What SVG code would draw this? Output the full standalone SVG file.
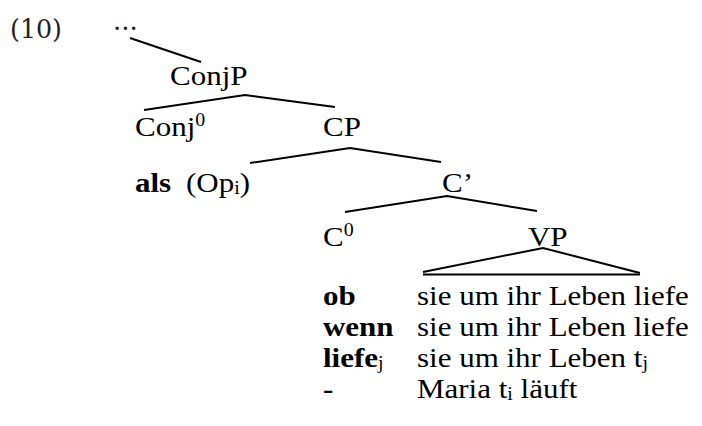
<svg xmlns="http://www.w3.org/2000/svg" width="702" height="426" viewBox="0 0 702 426">
  <style>
    .t { font-family: "Liberation Serif", "Times New Roman", serif; font-size: 28px; fill: #000; }
    .b { font-weight: bold; }
    .sup { font-size: 18px; }
    .sub { font-size: 18px; }
    .num { font-family: "DejaVu Serif", "Liberation Serif", serif; font-size: 26px; fill: #222; }
    .edge { stroke: #000; stroke-width: 2; fill: none; }
  </style>
  <rect width="702" height="426" fill="#fff"/>

  <!-- example number -->
  <text class="num" x="10" y="38" textLength="52" lengthAdjust="spacingAndGlyphs">(10)</text>
  <text class="num" x="113" y="30" font-size="20">...</text>

  <!-- tree branches -->
  <g id="connectors">
    <line class="edge" x1="130" y1="38" x2="201" y2="62"/>
    <polyline class="edge" points="144,110 245,95 335,107"/>
    <polyline class="edge" points="250,163 350,148 441,162"/>
    <polyline class="edge" points="345,212 447,196 537,211"/>
    <polyline class="edge" points="423,272 543,248 640,273"/>
    <line class="edge" x1="423" y1="274.5" x2="640" y2="274.5"/>
  </g>

  <!-- labels: Times set a little wide (scale 1.107 horizontally) -->
  <g id="ConjP"><text class="t" transform="translate(170 85) scale(1.107 1)">ConjP</text></g>
  <g id="Conj0"><text class="t" transform="translate(135 136) scale(1.107 1)">Conj<tspan class="sup" dy="-10">0</tspan></text></g>
  <g id="CP"><text class="t" transform="translate(323 136) scale(1.107 1)">CP</text></g>
  <g id="als"><text class="t b" transform="translate(135 192) scale(1.107 1)">als</text></g>
  <g id="Op"><text class="t" transform="translate(186 192) scale(1.107 1)">(Op<tspan class="sub" dy="2">i</tspan><tspan dy="-2">)</tspan></text></g>
  <g id="Cbar"><text class="t" transform="translate(442 192) scale(1.107 1)">C’</text></g>
  <g id="C0"><text class="t" transform="translate(323 246) scale(1.107 1)">C<tspan class="sup" dy="-10">0</tspan></text></g>
  <g id="VP"><text class="t" transform="translate(528 246) scale(1.107 1)">VP</text></g>

  <g id="rows">
    <text class="t b" transform="translate(323 305) scale(1.107 1)">ob</text>
    <text class="t" transform="translate(417 305) scale(1.107 1)">sie um ihr Leben liefe</text>
    <text class="t b" transform="translate(323 336) scale(1.107 1)">wenn</text>
    <text class="t" transform="translate(417 336) scale(1.107 1)">sie um ihr Leben liefe</text>
    <text class="t" transform="translate(323 367) scale(1.107 1)"><tspan class="b">liefe</tspan><tspan class="sub" dy="2">j</tspan></text>
    <text class="t" transform="translate(417 367) scale(1.107 1)">sie um ihr Leben t<tspan class="sub" dy="2">j</tspan></text>
    <text class="t b" transform="translate(323 398) scale(1.107 1)">-</text>
    <text class="t" transform="translate(417 398) scale(1.107 1)">Maria t<tspan class="sub" dy="2">i</tspan><tspan dy="-2"> läuft</tspan></text>
  </g>
</svg>
